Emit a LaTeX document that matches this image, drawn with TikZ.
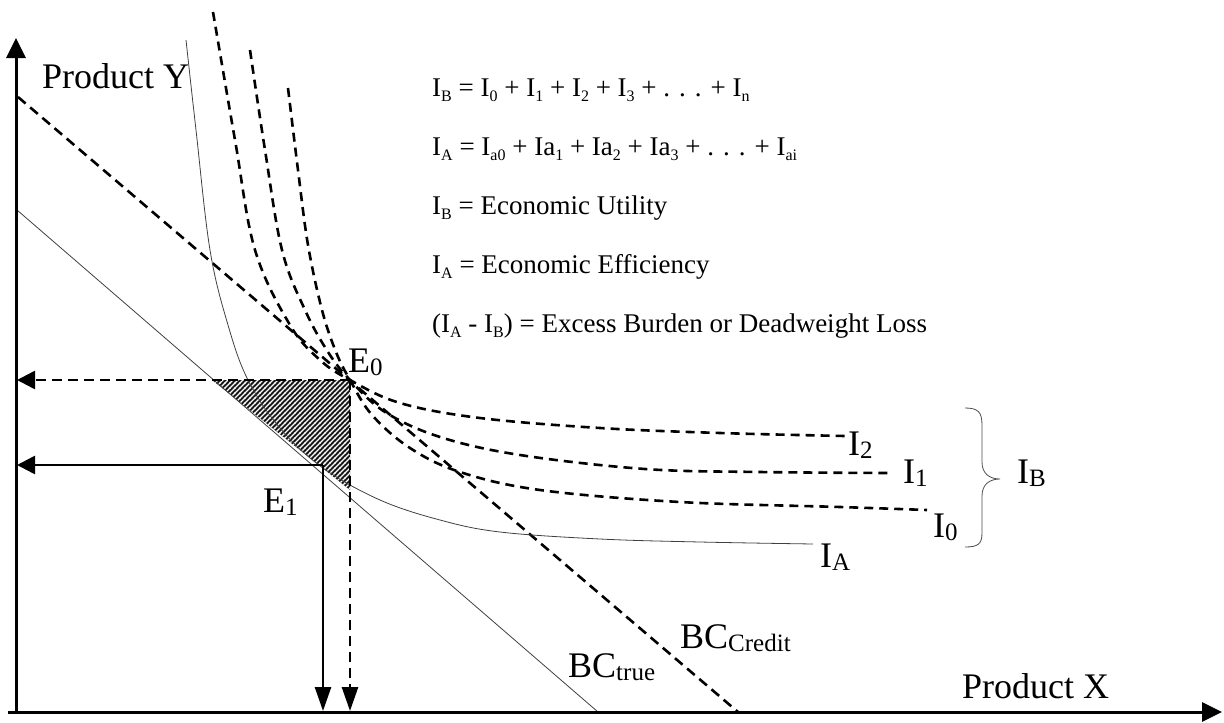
\documentclass[tikz,border=0pt]{standalone}
\usepackage{fontspec}
\setmainfont{Liberation Serif}
\usetikzlibrary{arrows.meta,patterns}
\pgfdeclarepatternformonly{hatchNE}{\pgfqpoint{-1pt}{-1pt}}{\pgfqpoint{6pt}{6pt}}{\pgfqpoint{5pt}{5pt}}{%
  \pgfsetlinewidth{1.1pt}%
  \pgfpathmoveto{\pgfqpoint{-0.5pt}{-0.5pt}}%
  \pgfpathlineto{\pgfqpoint{5.5pt}{5.5pt}}%
  \pgfusepath{stroke}}
\newcommand\eqsub[1]{\raisebox{-5pt}{\fontsize{16}{16}\selectfont #1}}
\newcommand\lbsub[1]{\raisebox{-3pt}{\fontsize{25}{25}\selectfont #1}}
\begin{document}
\begin{tikzpicture}[x=1pt,y=-1pt,
  axisline/.style={line width=3pt,-{Triangle[length=20pt,width=19pt]}},
  harrow/.style={line width=2.6pt,-{Triangle[length=18pt,width=18pt]}},
  varrow/.style={line width=2.6pt,-{Triangle[length=24pt,width=16pt]}},
  dsh/.style={line width=2.6pt,dash pattern=on 10pt off 6pt},
  curvedsh/.style={line width=2.6pt,dash pattern=on 9pt off 6pt},
  thinline/.style={line width=0.8pt,black!75},
  big/.style={font=\fontsize{36}{40}\selectfont,inner sep=0pt,anchor=base west},
  eq/.style={font=\fontsize{27}{30}\selectfont,inner sep=0pt,anchor=base west}]
\useasboundingbox (0,0) rectangle (1224,723);
% key points
\coordinate (Ytop) at (16,38);
\coordinate (Ybot) at (16,714);
\coordinate (Xleft) at (8,712);
\coordinate (Xend) at (1222,712);
\coordinate (E0) at (350,380);
\coordinate (E1) at (323,465);
\coordinate (E0y) at (17,380);
\coordinate (E1y) at (17,465);
\coordinate (E0x) at (350,711);
\coordinate (E1x) at (323,711);
\coordinate (T1) at (212,380);
\coordinate (T3) at (350,490);
\coordinate (BCtA) at (17,210);
\coordinate (BCtB) at (598,712);
\coordinate (BCcA) at (18,97);
\coordinate (BCcB) at (738,712);
% hatched triangle
\fill[black!90] (T1) -- (E0) -- (T3) -- cycle;
\fill[pattern=hatchNE,pattern color=white] (T1) -- (E0) -- (T3) -- cycle;
% budget lines
\draw[thinline] (BCtA) -- (BCtB);
\draw[dsh] (BCcA) -- (BCcB);
% indifference curve I_A
\draw[thinline] plot[smooth,tension=0.6] coordinates {(186,40) (196,130) (210,250) (228,325) (248,380) (280,428) (323,468) (380,500) (440,520) (500,532) (600,539) (700,542) (813,544)};
% indifference curves I_B
\draw[curvedsh] plot[smooth,tension=0.6] coordinates {(213,12) (235,140) (255,250) (290,325) (320,360) (350,380) (400,403) (480,418) (600,428) (720,433) (845,436)};
\draw[curvedsh] plot[smooth,tension=0.6] coordinates {(250,50) (265,150) (282,250) (305,310) (328,352) (350,380) (385,412) (440,437) (520,455) (645,469) (760,472) (890,473)};
\draw[curvedsh] plot[smooth,tension=0.6] coordinates {(288,88) (298,170) (308,245) (322,310) (336,352) (350,380) (372,415) (410,448) (460,472) (540,490) (680,502) (840,507) (927,510)};
% projection arrows
\draw[harrow,dsh] (E0) -- (E0y);
\draw[harrow] (E1) -- (E1y);
\draw[varrow,dsh] (E0) -- (E0x);
\draw[varrow] (E1) -- (E1x);
% axes
\draw[axisline] (Ybot) -- (Ytop);
\draw[axisline] (Xleft) -- (Xend);
% brace
\draw[line width=0.8pt,black!70] (965,408) .. controls (978,408) and (982,412) .. (982,425) -- (982,462) .. controls (982,474) and (990,479) .. (1000,479) .. controls (990,479) and (982,484) .. (982,496) -- (982,533) .. controls (982,544) and (978,547) .. (965,547);
% labels
\node[big] (ly) at (42,88) {Product Y};
\node[big] (lx) at (962,698) {Product X};
\node[big] (le0) at (348,372) {E\lbsub{0}};
\node[big] (le1) at (263,512) {E\lbsub{1}};
\node[big] (li2) at (848,455) {I\lbsub{2}};
\node[big] (li1) at (903,483) {I\lbsub{1}};
\node[big] (li0) at (933,537) {I\lbsub{0}};
\node[big] (lib) at (1017,483) {I\lbsub{B}};
\node[big] (lia) at (820,567) {I\lbsub{A}};
\node[big] (lbt) at (568,677) {BC\lbsub{true}};
\node[big] (lbc) at (680,648) {BC\lbsub{Credit}};
% equations
\node[eq] (q1) at (432,96) {I\eqsub{B} = I\eqsub{0} + I\eqsub{1} + I\eqsub{2} + I\eqsub{3} + . . . + I\eqsub{n}};
\node[eq] (q2) at (432,155) {I\eqsub{A} = I\eqsub{a0} + Ia\eqsub{1} + Ia\eqsub{2} + Ia\eqsub{3} + . . . + I\eqsub{ai}};
\node[eq] (q3) at (432,214) {I\eqsub{B} = Economic Utility};
\node[eq] (q4) at (432,273) {I\eqsub{A} = Economic Efficiency};
\node[eq] (q5) at (432,332) {(I\eqsub{A} - I\eqsub{B}) = Excess Burden or Deadweight Loss};
\end{tikzpicture}
\end{document}
